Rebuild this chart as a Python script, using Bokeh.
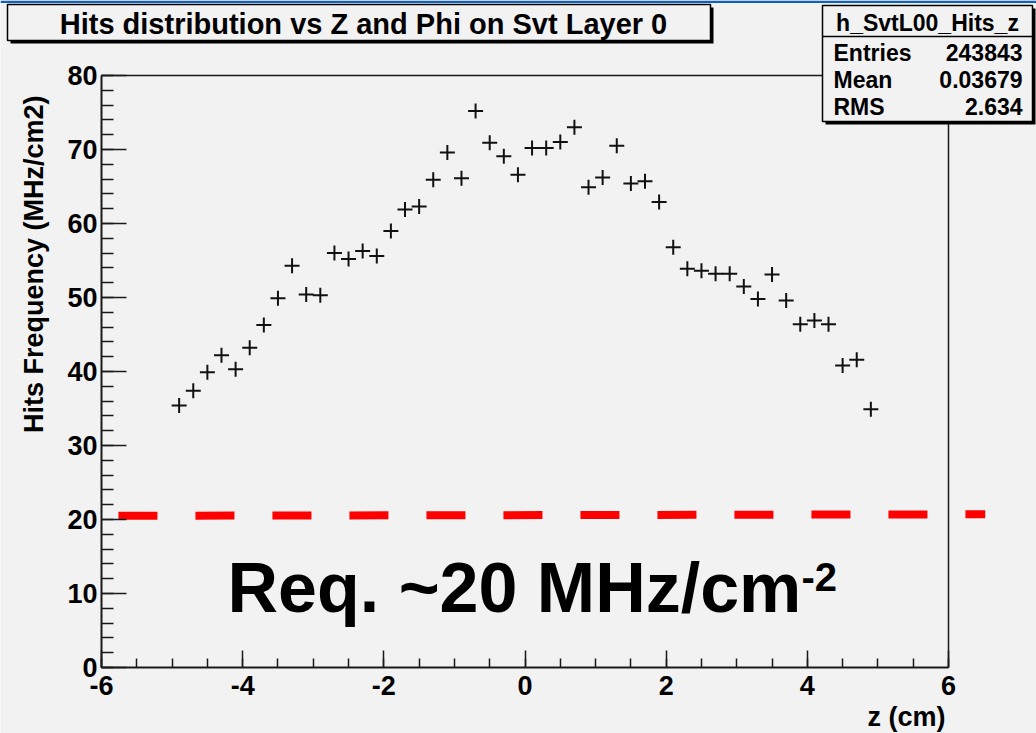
import math
from bokeh.plotting import figure
from bokeh.models import Range1d, SingleIntervalTicker, PrintfTickFormatter
from bokeh.core.properties import value
from bokeh.embed import file_html
from bokeh.resources import INLINE

# ---------------- data ----------------
z_centers = [-4.9, -4.7, -4.5, -4.3, -4.1, -3.9, -3.7, -3.5, -3.3, -3.1,
             -2.9, -2.7, -2.5, -2.3, -2.1, -1.9, -1.7, -1.5, -1.3, -1.1,
             -0.9, -0.7, -0.5, -0.3, -0.1, 0.1, 0.3, 0.5, 0.7, 0.9,
             1.1, 1.3, 1.5, 1.7, 1.9, 2.1, 2.3, 2.5, 2.7, 2.9,
             3.1, 3.3, 3.5, 3.7, 3.9, 4.1, 4.3, 4.5, 4.7, 4.9]
hits_rate = [35.4, 37.4, 39.9, 42.2, 40.3, 43.2, 46.3, 49.9, 54.3, 50.4,
             50.3, 56.0, 55.2, 56.3, 55.6, 59.0, 61.9, 62.3, 65.9, 69.6,
             66.1, 75.2, 70.9, 69.1, 66.6, 70.2, 70.2, 71.0, 73.0, 64.9,
             66.2, 70.5, 65.4, 65.7, 62.9, 56.8, 53.9, 53.6, 53.2, 53.2,
             51.5, 49.8, 53.1, 49.6, 46.4, 46.9, 46.4, 40.8, 41.6, 34.9]
req_z = [-5.76, 6.52]
req_rate = [20.5, 20.7]

title_text = "Hits distribution vs Z and Phi on Svt Layer 0"
stats_name = "h_SvtL00_Hits_z"
stats_labels = ["Entries", "Mean", "RMS"]
stats_values = ["243843", "0.03679", "2.634"]
x_title = "z (cm)"
y_title = "Hits Frequency (MHz/cm2)"
req_text = "Req. ~20 MHz/cm"
req_sup = "-2"

# ---------------- layout (page pixels -> data) ----------------
W, H = 1036, 733
PX_XL, PX_XR = 101.0, 948.0   # x = -6 and x = 6
PX_YB, PX_YT = 667.0, 75.0    # y = 0 and y = 80
SX = (PX_XR - PX_XL) / 12.0
SY = (PX_YB - PX_YT) / 80.0


def fx(px):
    return -6.0 + (px - PX_XL) / SX


def fy(py):
    return (PX_YB - py) / SY


def mid(baseline_px, fs):
    # text drawn with "middle" baseline: centre of the em box
    return fy(baseline_px - 0.3465 * fs)


BG = "#f2f2f2"
FONT = "Liberation Sans"
TXT = dict(text_font=value(FONT), text_font_style="bold", text_color="black",
           text_baseline="middle")

p = figure(width=W, height=H,
           x_range=Range1d(fx(0), fx(W)), y_range=Range1d(fy(H), fy(0)),
           min_border=0, toolbar_location=None, output_backend="svg",
           background_fill_color=BG, border_fill_color=BG,
           outline_line_color=None)
p.xgrid.visible = False
p.ygrid.visible = False

# axes
xa = p.xaxis[0]
ya = p.yaxis[0]
xa.fixed_location = 0
ya.fixed_location = -6
xa.bounds = (-6, 6)
ya.bounds = (0, 80)
xa.ticker = SingleIntervalTicker(interval=2, num_minor_ticks=4)
ya.ticker = SingleIntervalTicker(interval=10, num_minor_ticks=5)
for ax in (xa, ya):
    ax.formatter = PrintfTickFormatter(format="%d")
    ax.axis_line_width = 2
    ax.axis_line_color = "#1a1a1a"
    ax.major_tick_line_width = 1.5
    ax.minor_tick_line_width = 1.5
    ax.major_tick_line_color = "#1a1a1a"
    ax.minor_tick_line_color = "#1a1a1a"
    ax.major_tick_out = 0
    ax.minor_tick_out = 0
    ax.major_label_text_font = FONT
    ax.major_label_text_font_style = "bold"
    ax.major_label_text_font_size = "27px"
    ax.major_label_text_color = "black"
xa.major_tick_in = 17
xa.minor_tick_in = 9
ya.major_tick_in = 25
ya.minor_tick_in = 12
xa.major_label_standoff = 8
ya.major_label_standoff = 4

# blue window edge at the top
p.quad(left=[fx(0)], right=[fx(W)], top=[fy(0)], bottom=[fy(2.5)],
       fill_color="#1060c0", line_color=None)

# frame top / right borders
p.line(x=[-6, 6, 6], y=[80, 80, 0], line_color="#1a1a1a", line_width=1.5)

# requirement line
p.line(x=req_z, y=req_rate, line_color="red", line_width=8,
       line_dash="39 38", line_cap="butt")

# data points
p.scatter(x=z_centers, y=hits_rate, marker="cross", size=15,
          line_color="#111111", line_width=2)

# axis titles
p.text(x=[fx(33.5)], y=[fy(95)], text=[y_title], angle=math.pi / 2,
       text_font_size=value("27px"), text_align="right", **TXT)
p.text(x=[fx(945)], y=[fy(716)], text=[x_title],
       text_font_size=value("27px"), text_align="right", **TXT)

# big requirement text
p.text(x=[fx(227)], y=[mid(612, 70)], text=[req_text],
       text_font_size=value("70px"), text_align="left", **TXT)
p.text(x=[fx(801)], y=[mid(590, 40)], text=[req_sup],
       text_font_size=value("40px"), text_align="left", **TXT)

# title box
p.quad(left=[fx(10)], right=[fx(713)], top=[fy(7)], bottom=[fy(43)],
       fill_color="black", line_color=None)
p.quad(left=[fx(7)], right=[fx(710)], top=[fy(4)], bottom=[fy(40)],
       fill_color=BG, line_color="black", line_width=1.5)
p.text(x=[fx(363)], y=[mid(34, 29)], text=[title_text],
       text_font_size=value("29px"), text_align="center", **TXT)

# stats box
p.quad(left=[fx(825)], right=[fx(1035)], top=[fy(8)], bottom=[fy(124)],
       fill_color="black", line_color=None)
p.quad(left=[fx(822)], right=[fx(1032)], top=[fy(5)], bottom=[fy(121)],
       fill_color=BG, line_color="black", line_width=1.5)
p.line(x=[fx(822), fx(1032)], y=[fy(36), fy(36)], line_color="black",
       line_width=1.5)
p.text(x=[fx(927)], y=[mid(30, 23)], text=[stats_name],
       text_font_size=value("23px"), text_align="center", **TXT)
row_base = [mid(60, 23), mid(87, 23), mid(114, 23)]
p.text(x=[fx(833)] * 3, y=row_base, text=stats_labels,
       text_font_size=value("23px"), text_align="left", **TXT)
p.text(x=[fx(1022)] * 3, y=row_base, text=stats_values,
       text_font_size=value("23px"), text_align="right", **TXT)

open("out.html", "w").write(file_html(p, INLINE))
